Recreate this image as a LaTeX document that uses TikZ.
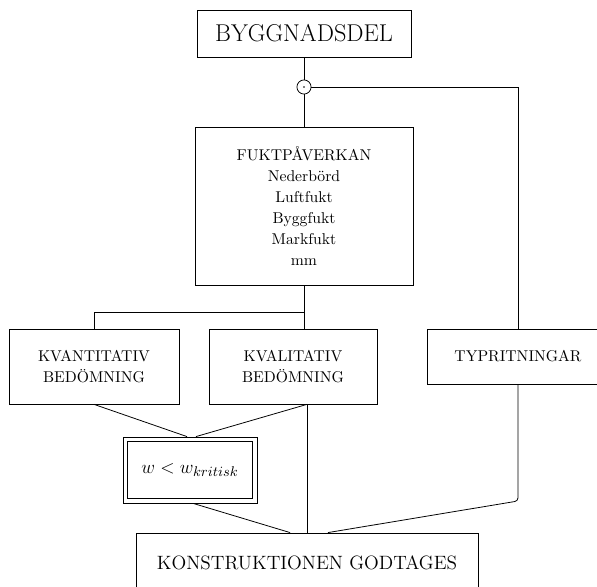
\documentclass[tikz,border=0pt]{standalone}
\usepackage{fontspec}

\begin{document}
\begin{tikzpicture}[x=0.6378pt, y=-0.6378pt, line width=0.5pt,
    box/.style={draw, align=center, inner sep=0pt, font=\fontsize{10}{13}\selectfont}]
  \clip (0, 0) rectangle (597, 587);

  \node[box, minimum width=136.5pt, minimum height=30pt, font=\fontsize{15.5}{18}\selectfont] (bygg) at (304, 33.5) {BYGGNADSDEL};
  \node[circle, draw, minimum size=9pt, inner sep=0pt] (knut) at (304, 87) {};
  \fill (knut.center) circle (0.6pt);

  \node[box, minimum width=139pt, minimum height=100.8pt, font=\fontsize{10}{13.4}\selectfont] (fukt) at (304, 206)
    {FUKTPÅVERKAN\\ Nederbörd\\ Luftfukt\\ Byggfukt\\ Markfukt\\ mm};

  \node[box, minimum width=108.4pt, minimum height=47.8pt] (kvant) at (94, 366.5) {KVANTITATIV\\ BEDÖMNING};
  \node[box, minimum width=107.2pt, minimum height=47.8pt] (kval) at (293, 366.5) {KVALITATIV\\ BEDÖMNING};
  \node[box, minimum width=116pt, minimum height=35.1pt] (typ) at (518, 356.5) {TYPRITNINGAR};

  \node[box, minimum width=85.5pt, minimum height=42.1pt, font=\fontsize{12.5}{15}\selectfont] (krit) at (190, 470)
    {$w < w_{kritisk}$};
  \draw ([xshift=3.2pt, yshift=-3.2pt]krit.north west) rectangle ([xshift=-3.2pt, yshift=3.2pt]krit.south east);

  \node[box, minimum width=218.1pt, minimum height=38.3pt, font=\fontsize{12.3}{15}\selectfont] (konstr) at (307, 563)
    {KONSTRUKTIONEN GODTAGES};

  \coordinate (delning) at (304, 312);
  \coordinate (kvalut) at (kval.south -| konstr.north);
  \coordinate (typut) at (typ.south |- 0, 501);

  \draw (bygg) -- (knut);
  \draw (knut) -- (fukt);
  \draw (knut.east) -| (typ.north);

  \draw (fukt.south) -- (kval.north -| fukt.south);
  \draw (kvant.north) |- (delning);

  \draw (kvant.south) -- ([xshift=-1.9pt]krit.north);
  \draw (kvalut) -- ([xshift=3.8pt]krit.north);
  \draw (kvalut) -- (konstr.north);

  \draw ([xshift=2pt]krit.south) -- ([xshift=-10.8pt]konstr.north);
  \draw[rounded corners=2pt] (typ.south) -- (typut) -- ([xshift=13.4pt]konstr.north);

\end{tikzpicture}
\end{document}
